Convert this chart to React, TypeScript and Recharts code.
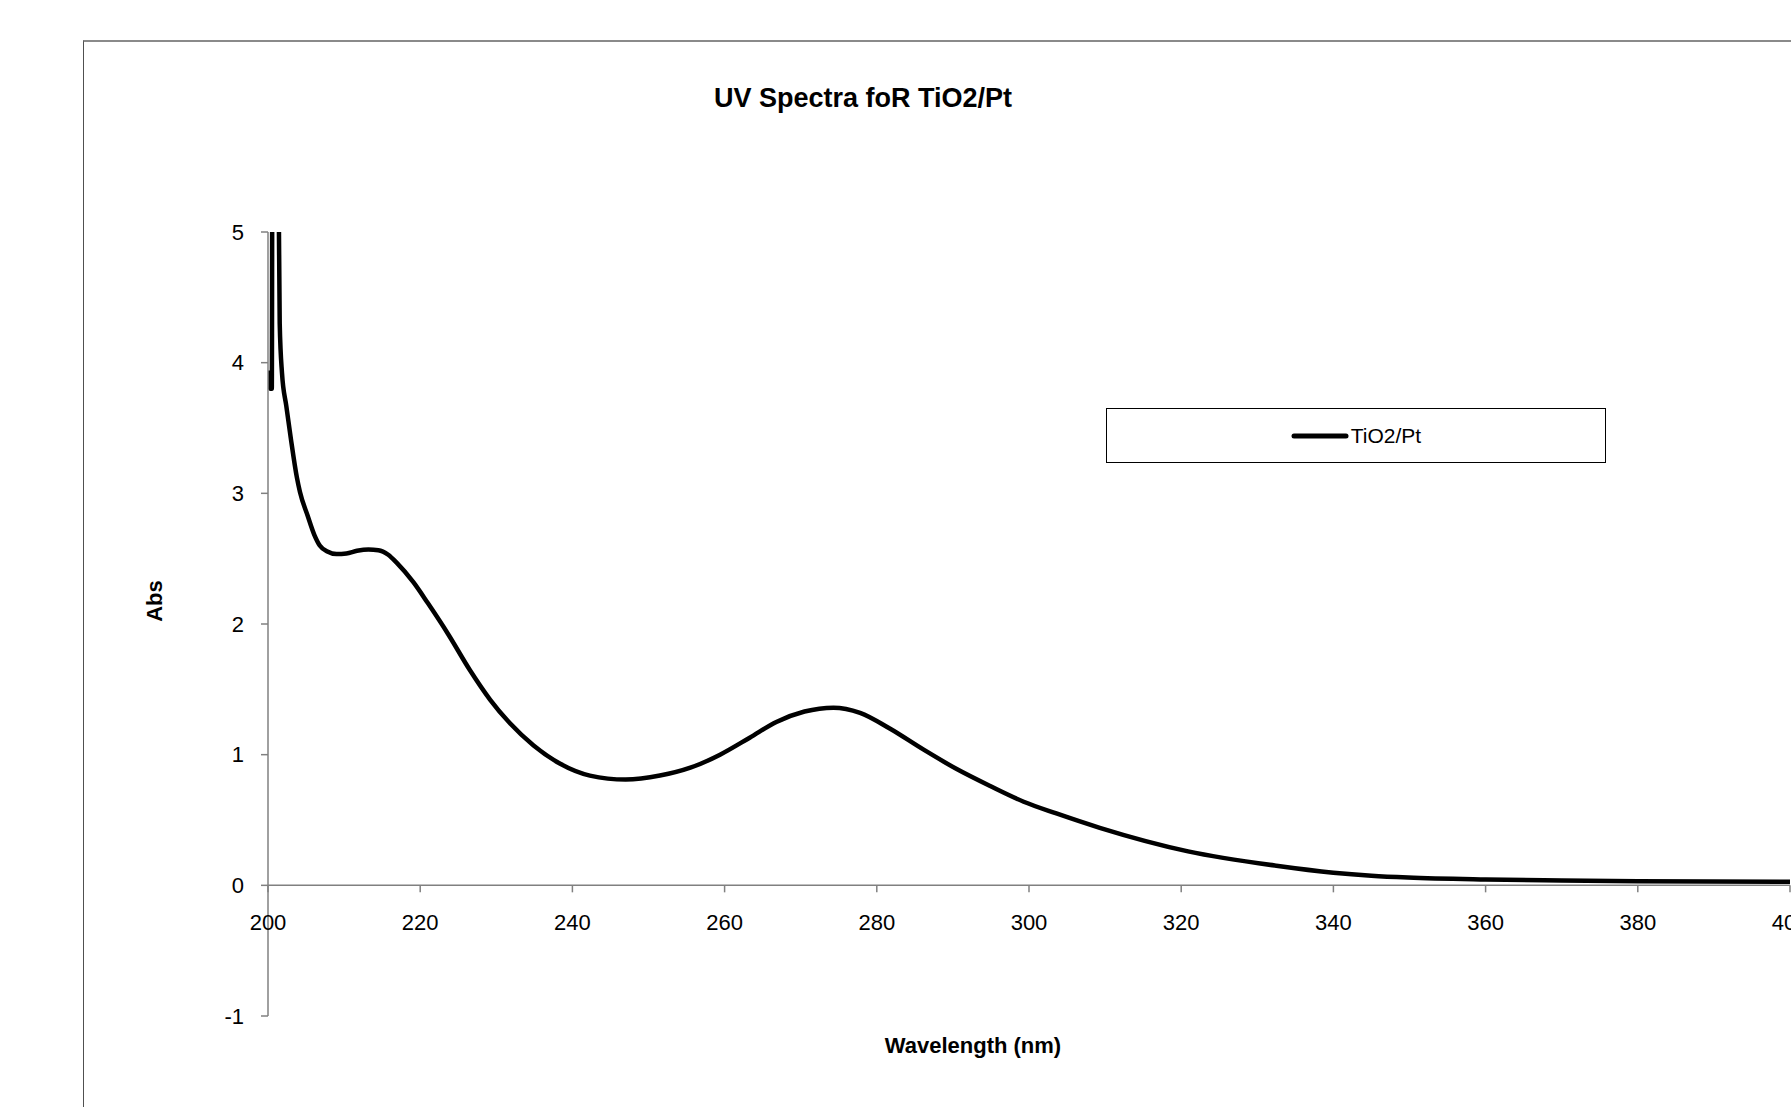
import { LineChart, Line, XAxis, YAxis, ReferenceLine, Legend } from 'recharts'

// absorbance spectrum, read point by point (wavelength in nm, absorbance)
const wavelengths = [
  200.1, 200.3, 200.5, 200.6, 201.2, 201.54, 201.84, 202.4, 203.0, 203.8,
  204.2, 205.2, 206.1, 206.8, 207.8, 209.0, 210.3, 211.7, 213.2, 214.5,
  215.8, 216.9, 219.1, 221.0, 223.7, 226.5, 229.2, 231.8, 234.9, 238.4,
  242.3, 247.0, 251.5, 255.5, 259.4, 263.3, 266.8, 270.5, 274.3, 277.8,
  281.7, 286.1, 290.5, 294.9, 299.3, 303.6, 309.3, 320.9, 332.5, 340.0,
  345.0, 349.8, 360.0, 370.0, 380.0, 400.0,
]
const absorbance = [
  3.94, 3.8, 3.8, 6.5, 6.5, 4.3, 3.92, 3.67, 3.42, 3.12,
  3.01, 2.83, 2.68, 2.6, 2.555, 2.535, 2.54, 2.56, 2.57, 2.565,
  2.53, 2.47, 2.32, 2.16, 1.92, 1.65, 1.42, 1.24, 1.07, 0.93,
  0.84, 0.81, 0.84, 0.9, 1.0, 1.13, 1.25, 1.33, 1.36, 1.32,
  1.2, 1.04, 0.89, 0.76, 0.64, 0.55, 0.44, 0.26, 0.15, 0.097,
  0.074, 0.06, 0.045, 0.037, 0.032, 0.028,
]

const xTicks = [200, 220, 240, 260, 280, 300, 320, 340, 360, 380, 400]
const yTicks = [-1, 0, 1, 2, 3, 4, 5]

const seriesName = 'TiO2/Pt'

const data = wavelengths.map((nm, i) => ({ nm, abs: absorbance[i] }))

const FONT = '"Liberation Sans", Arial, sans-serif'
const AXIS_GRAY = '#808080'

const W = 1791
const H = 1107
const MARGIN = { top: 232, right: 1, bottom: 61, left: 0 }
const X_AXIS_H = 30
const PLOT_H = H - MARGIN.top - MARGIN.bottom - X_AXIS_H

// x axis crosses at abs = 0, one sixth of the way up from the bottom (-1)
function WaveTick({ x, y, payload }: any) {
  const zeroY = y - PLOT_H / 6
  return (
    <g>
      <line x1={x} x2={x} y1={zeroY} y2={zeroY + 7} stroke={AXIS_GRAY} strokeWidth={1.5} />
      <text x={x} y={zeroY + 45} textAnchor="middle" fontSize={22} fontFamily={FONT} fill="#000">
        {payload.value}
      </text>
    </g>
  )
}

function LegendBox() {
  return (
    <div
      style={{
        width: 500,
        height: 55,
        boxSizing: 'border-box',
        border: '1px solid #000',
        background: '#fff',
        display: 'flex',
        alignItems: 'center',
        justifyContent: 'center',
        fontFamily: FONT,
        fontSize: 21,
        color: '#000',
      }}
    >
      <svg width={58} height={10} style={{ marginRight: 2 }}>
        <line x1={3} x2={55} y1={5} y2={5} stroke="#000" strokeWidth={5} strokeLinecap="round" />
      </svg>
      <span>{seriesName}</span>
    </div>
  )
}

export default function App() {
  return (
    <div style={{ position: 'fixed', left: 0, top: 0, width: W, height: H, overflow: 'hidden', background: '#fff' }}>
      <div
        style={{
          position: 'absolute',
          left: 83,
          top: 40,
          width: W - 83,
          height: H - 40,
          borderTop: '2px solid #8a8a8a',
          borderLeft: '1px solid #505050',
        }}
      />
      <div
        style={{
          position: 'absolute',
          left: 863,
          top: 98,
          transform: 'translate(-50%, -50%)',
          fontFamily: FONT,
          fontWeight: 'bold',
          fontSize: 27,
          whiteSpace: 'nowrap',
        }}
      >
        UV Spectra foR TiO2/Pt
      </div>
      <div
        style={{
          position: 'absolute',
          left: 155,
          top: 601,
          transform: 'translate(-50%, -50%) rotate(-90deg)',
          fontFamily: FONT,
          fontWeight: 'bold',
          fontSize: 22,
          whiteSpace: 'nowrap',
        }}
      >
        Abs
      </div>
      <div
        style={{
          position: 'absolute',
          left: 973,
          top: 1046,
          transform: 'translate(-50%, -50%)',
          fontFamily: FONT,
          fontWeight: 'bold',
          fontSize: 22,
          whiteSpace: 'nowrap',
        }}
      >
        Wavelength (nm)
      </div>
      <div style={{ position: 'absolute', left: 0, top: 0 }}>
        <LineChart width={W} height={H} data={data} margin={MARGIN}>
          <XAxis
            dataKey="nm"
            type="number"
            domain={[200, 400]}
            ticks={xTicks}
            allowDataOverflow
            height={X_AXIS_H}
            axisLine={false}
            tickLine={false}
            tickSize={0}
            tickMargin={0}
            tick={<WaveTick />}
            interval={0}
          />
          <YAxis
            type="number"
            domain={[-1, 5]}
            ticks={yTicks}
            allowDataOverflow
            width={268}
            interval={0}
            axisLine={{ stroke: AXIS_GRAY, strokeWidth: 1.5 }}
            tickLine={{ stroke: AXIS_GRAY, strokeWidth: 1.5 }}
            tickSize={7}
            tickMargin={17}
            tick={{ fontSize: 22, fontFamily: FONT, fill: '#000' }}
          />
          <ReferenceLine y={0} stroke={AXIS_GRAY} strokeWidth={1.5} />
          <Legend
            content={<LegendBox />}
            layout="vertical"
            align="center"
            verticalAlign="middle"
            wrapperStyle={{ position: 'absolute', left: 1106, top: 408, width: 500, height: 55 }}
          />
          <Line
            dataKey="abs"
            name={seriesName}
            type="monotone"
            stroke="#000"
            strokeWidth={4.5}
            dot={false}
            activeDot={false}
            isAnimationActive={false}
          />
        </LineChart>
      </div>
    </div>
  )
}
